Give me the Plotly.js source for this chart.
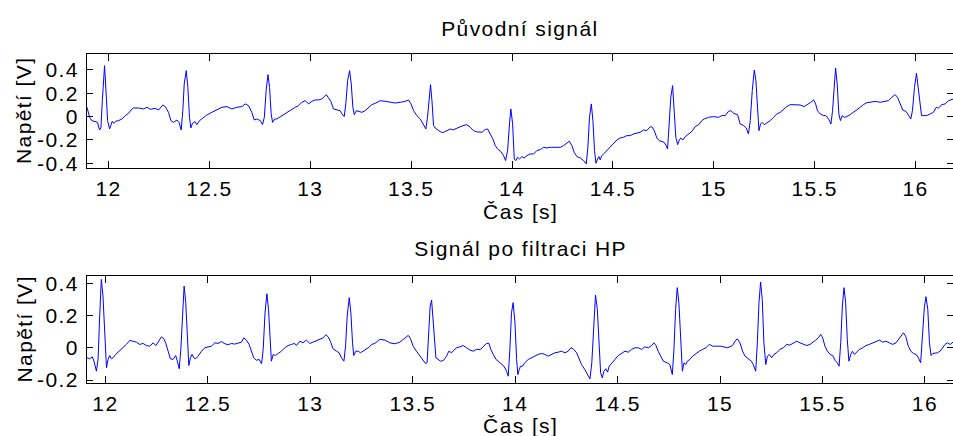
<!DOCTYPE html>
<html>
<head>
<meta charset="utf-8">
<script src="https://cdn.plot.ly/plotly-3.0.1.min.js"></script>
<style>
  html, body { margin: 0; padding: 0; background: #fff; }
  #chart { width: 953px; height: 436px; }
  .main-svg text { letter-spacing: 1.4px; }
</style>
</head>
<body>
<div id="chart"></div>
<script>
// ---- Data ----
const tOrig = [11.893,11.906,11.917,11.934,11.945,11.955,11.962,11.969,11.980,11.988,11.995,12.005,12.012,12.018,12.025,12.035,12.050,12.066,12.083,12.099,12.116,12.124,12.149,12.173,12.190,12.207,12.231,12.248,12.256,12.269,12.281,12.297,12.309,12.322,12.339,12.349,12.360,12.368,12.375,12.385,12.393,12.401,12.408,12.416,12.428,12.438,12.451,12.471,12.487,12.512,12.537,12.562,12.587,12.611,12.636,12.661,12.677,12.694,12.710,12.722,12.735,12.752,12.763,12.772,12.781,12.790,12.798,12.806,12.813,12.823,12.834,12.851,12.867,12.884,12.900,12.925,12.942,12.958,12.975,12.991,13.008,13.024,13.041,13.057,13.079,13.090,13.102,13.115,13.132,13.148,13.157,13.168,13.176,13.185,13.195,13.203,13.211,13.218,13.228,13.239,13.256,13.272,13.289,13.305,13.322,
13.347,13.371,13.396,13.421,13.446,13.471,13.487,13.499,13.512,13.528,13.545,13.562,13.573,13.581,13.590,13.596,13.603,13.611,13.619,13.631,13.644,13.657,13.669,13.682,13.694,13.707,13.718,13.735,13.757,13.776,13.793,13.809,13.826,13.851,13.867,13.879,13.892,13.905,13.917,13.928,13.945,13.958,13.968,13.978,13.988,13.994,14.003,14.011,14.019,14.027,14.037,14.049,14.060,14.074,14.090,14.107,14.123,14.140,14.156,14.173,14.189,14.206,14.222,14.239,14.255,14.272,14.284,14.297,14.308,14.322,14.338,14.355,14.368,14.376,14.384,14.393,14.401,14.409,14.416,14.424,14.431,14.437,14.445,14.454,14.470,14.487,14.503,14.520,14.536,14.553,14.569,14.586,14.602,14.619,14.635,14.652,14.668,14.682,14.693,14.705,14.718,14.730,14.743,
14.754,14.764,14.771,14.779,14.787,14.796,14.804,14.812,14.821,14.829,14.837,14.847,14.859,14.875,14.892,14.908,14.925,14.941,14.953,14.974,14.999,15.024,15.040,15.057,15.073,15.085,15.098,15.118,15.131,15.148,15.161,15.172,15.181,15.191,15.201,15.209,15.217,15.224,15.232,15.240,15.250,15.263,15.280,15.296,15.313,15.329,15.346,15.362,15.379,15.404,15.428,15.448,15.465,15.481,15.495,15.505,15.514,15.528,15.544,15.556,15.569,15.581,15.589,15.597,15.604,15.612,15.620,15.628,15.637,15.647,15.660,15.676,15.693,15.709,15.726,15.742,15.759,15.775,15.800,15.825,15.845,15.866,15.883,15.899,15.911,15.924,15.937,15.954,15.965,15.977,15.985,15.995,16.005,16.013,16.022,16.030,16.040,16.056,16.073,16.089,16.103,16.114,16.131,16.147,16.164,16.180,16.187];

const vOrig = [0.080,-0.006,-0.034,-0.040,-0.049,-0.114,-0.097,0.137,0.437,0.194,-0.034,-0.106,-0.057,-0.040,-0.057,-0.040,-0.034,-0.020,0.009,0.029,0.066,0.074,0.074,0.066,0.080,0.063,0.071,0.057,0.074,0.100,0.086,0.037,-0.034,-0.049,-0.029,-0.049,-0.114,0.051,0.280,0.394,0.251,-0.006,-0.097,-0.057,-0.043,-0.069,-0.034,-0.006,0.014,0.037,0.057,0.080,0.086,0.066,0.080,0.086,0.109,0.094,0.037,-0.029,-0.020,-0.034,-0.069,-0.006,0.223,0.360,0.251,0.023,-0.049,-0.020,-0.020,0.000,0.017,0.037,0.057,0.080,0.094,0.123,0.137,0.109,0.131,0.143,0.143,0.151,0.189,0.166,0.131,0.066,0.057,0.051,0.023,0.000,0.109,0.309,0.394,0.280,0.080,0.017,0.051,0.046,0.037,0.051,0.080,0.103,0.114,
0.137,0.131,0.123,0.117,0.123,0.131,0.143,0.109,0.051,0.009,-0.020,-0.069,-0.106,-0.006,0.194,0.274,0.137,-0.077,-0.097,-0.114,-0.129,-0.137,-0.126,-0.114,-0.106,-0.114,-0.106,-0.091,-0.077,-0.069,-0.091,-0.120,-0.131,-0.134,-0.111,-0.106,-0.143,-0.191,-0.249,-0.277,-0.300,-0.334,-0.377,-0.291,-0.049,0.066,-0.063,-0.363,-0.377,-0.349,-0.363,-0.343,-0.354,-0.334,-0.320,-0.320,-0.291,-0.283,-0.263,-0.269,-0.263,-0.263,-0.269,-0.263,-0.249,-0.226,-0.211,-0.249,-0.306,-0.343,-0.354,-0.377,-0.406,-0.263,-0.006,0.109,-0.034,-0.291,-0.400,-0.363,-0.343,-0.371,-0.334,-0.320,-0.291,-0.263,-0.234,-0.200,-0.183,-0.177,-0.163,-0.163,-0.149,-0.143,-0.134,-0.114,-0.120,-0.091,-0.086,-0.120,-0.183,-0.206,-0.211,
-0.220,-0.249,-0.277,-0.063,0.166,0.266,0.080,-0.177,-0.240,-0.200,-0.183,-0.200,-0.171,-0.149,-0.126,-0.086,-0.069,-0.034,-0.020,-0.006,0.000,-0.006,0.009,0.009,0.046,0.051,0.029,0.017,-0.063,-0.077,-0.097,-0.149,-0.034,0.223,0.400,0.309,0.023,-0.120,-0.063,-0.049,-0.069,-0.057,-0.034,-0.006,0.023,0.037,0.066,0.086,0.103,0.103,0.100,0.086,0.103,0.123,0.143,0.109,0.051,0.023,0.009,0.009,-0.020,-0.063,0.051,0.309,0.417,0.280,0.023,-0.034,0.009,-0.006,0.000,0.017,0.037,0.057,0.080,0.103,0.120,0.123,0.131,0.123,0.131,0.137,0.166,0.189,0.166,0.109,0.057,0.043,0.017,-0.020,0.051,0.251,0.371,0.251,0.080,0.009,0.009,0.009,0.023,0.037,0.080,0.074,0.103,0.109,0.137,0.151,0.151];

const tHP = [11.910,11.923,11.936,11.944,11.956,11.964,11.972,11.980,11.988,11.997,12.005,12.013,12.021,12.029,12.037,12.050,12.067,12.086,12.102,12.119,12.135,12.151,12.167,12.184,12.200,12.216,12.233,12.246,12.257,12.273,12.285,12.294,12.306,12.317,12.330,12.343,12.351,12.360,12.368,12.376,12.384,12.392,12.400,12.407,12.415,12.423,12.431,12.441,12.452,12.469,12.485,12.501,12.517,12.534,12.550,12.566,12.583,12.599,12.615,12.631,12.648,12.664,12.675,12.688,12.701,12.713,12.724,12.737,12.750,12.762,12.770,12.779,12.788,12.796,12.804,12.810,12.819,12.830,12.843,12.859,12.875,12.892,12.908,12.924,12.932,12.949,12.965,12.981,12.998,13.014,13.030,13.046,13.063,13.076,13.087,13.098,13.111,13.128,13.141,13.152,13.164,13.172,13.180,13.190,13.198,13.206,13.212,13.222,13.234,13.245,13.258,13.271,13.287,13.299,13.315,
13.339,13.364,13.388,13.413,13.437,13.461,13.478,13.489,13.502,13.518,13.535,13.551,13.562,13.570,13.577,13.585,13.592,13.598,13.606,13.613,13.624,13.636,13.649,13.665,13.676,13.689,13.701,13.714,13.730,13.746,13.763,13.779,13.795,13.811,13.831,13.847,13.860,13.872,13.881,13.893,13.906,13.917,13.933,13.945,13.958,13.966,13.974,13.982,13.990,13.999,14.007,14.013,14.020,14.026,14.036,14.047,14.064,14.080,14.096,14.112,14.129,14.145,14.161,14.178,14.194,14.210,14.226,14.243,14.259,14.272,14.283,14.300,14.313,14.324,14.340,14.352,14.365,14.374,14.384,14.392,14.401,14.409,14.417,14.425,14.433,14.443,14.451,14.459,14.471,14.487,14.503,14.519,14.536,14.552,14.568,14.585,14.601,14.617,14.633,14.650,14.666,14.677,14.687,14.698,14.710,14.723,
14.742,14.755,14.767,14.775,14.783,14.791,14.799,14.807,14.816,14.824,14.832,14.840,14.853,14.866,14.882,14.899,14.915,14.931,14.947,14.964,14.983,15.003,15.024,15.035,15.048,15.061,15.073,15.084,15.097,15.110,15.122,15.133,15.143,15.153,15.162,15.174,15.182,15.190,15.198,15.206,15.214,15.223,15.231,15.240,15.252,15.263,15.276,15.292,15.309,15.325,15.341,15.358,15.374,15.390,15.406,15.423,15.439,15.452,15.465,15.480,15.491,15.501,15.512,15.524,15.537,15.550,15.561,15.572,15.581,15.589,15.597,15.605,15.613,15.621,15.629,15.638,15.646,15.656,15.667,15.680,15.696,15.712,15.729,15.745,15.761,15.778,15.794,15.810,15.826,15.843,15.859,15.870,15.882,15.895,15.906,15.919,15.931,15.944,15.957,15.968,15.979,15.988,15.997,16.005,16.014,16.022,16.030,16.038,16.049,16.061,16.074,16.087,16.098,16.110,16.123,16.137];

const vHP = [-0.062,-0.068,-0.056,-0.083,-0.145,-0.072,0.197,0.424,0.321,0.031,-0.124,-0.072,-0.048,-0.068,-0.062,-0.041,-0.021,0.000,0.021,0.046,0.039,0.035,0.021,0.027,0.014,0.010,0.031,0.014,0.035,0.068,0.056,0.031,-0.021,-0.068,-0.072,-0.048,-0.083,-0.130,-0.010,0.217,0.383,0.280,0.031,-0.110,-0.062,-0.041,-0.062,-0.068,-0.052,-0.021,0.000,0.006,0.010,0.031,0.027,0.039,0.025,0.019,0.027,0.023,0.027,0.035,0.062,0.048,0.021,-0.021,-0.062,-0.077,-0.072,-0.099,-0.010,0.217,0.335,0.238,0.031,-0.083,-0.041,-0.048,-0.035,-0.021,0.000,0.014,0.021,0.027,0.014,0.041,0.031,0.048,0.027,0.035,0.048,0.052,0.062,0.081,0.068,0.041,-0.006,-0.021,-0.031,-0.062,-0.083,0.010,0.197,0.311,0.217,0.031,-0.048,-0.021,-0.021,-0.031,-0.021,-0.010,0.004,0.021,0.027,
0.052,0.048,0.031,0.025,0.035,0.060,0.077,0.056,0.010,-0.021,-0.052,-0.077,-0.097,-0.093,0.072,0.259,0.296,0.197,0.010,-0.062,-0.072,-0.083,-0.079,-0.052,-0.021,-0.031,-0.014,0.000,0.006,0.014,0.000,-0.014,-0.021,-0.010,-0.010,0.014,0.027,0.027,-0.010,-0.041,-0.072,-0.083,-0.104,-0.114,-0.145,-0.176,-0.010,0.217,0.280,0.155,-0.072,-0.166,-0.135,-0.114,-0.114,-0.093,-0.072,-0.062,-0.048,-0.041,-0.035,-0.041,-0.052,-0.041,-0.031,-0.027,-0.021,-0.031,-0.021,0.000,-0.006,-0.031,-0.072,-0.104,-0.135,-0.166,-0.193,-0.093,0.197,0.327,0.238,-0.010,-0.155,-0.186,-0.145,-0.130,-0.151,-0.114,-0.093,-0.072,-0.048,-0.035,-0.021,-0.027,-0.010,0.000,0.000,-0.010,0.006,0.000,0.014,0.031,0.014,-0.021,-0.052,-0.083,
-0.093,-0.104,-0.166,-0.010,0.238,0.373,0.280,0.031,-0.145,-0.093,-0.104,-0.083,-0.072,-0.052,-0.035,-0.021,-0.010,0.000,0.021,0.010,0.010,0.010,0.004,0.000,0.006,0.014,0.041,0.056,0.031,-0.021,-0.052,-0.062,-0.072,-0.083,-0.104,-0.145,0.031,0.280,0.408,0.300,0.031,-0.104,-0.052,-0.041,-0.062,-0.041,-0.031,-0.010,0.000,0.021,0.017,0.031,0.041,0.031,0.025,0.014,0.021,0.031,0.046,0.062,0.083,0.062,0.010,-0.021,-0.041,-0.048,-0.077,-0.093,-0.114,0.031,0.259,0.373,0.280,0.052,-0.083,-0.041,-0.021,-0.041,-0.027,-0.010,0.000,0.014,0.021,0.031,0.041,0.048,0.035,0.041,0.031,0.021,0.031,0.052,0.072,0.093,0.072,0.010,-0.021,-0.035,-0.041,-0.062,-0.093,0.052,0.248,0.317,0.238,0.031,-0.048,-0.035,-0.035,-0.031,-0.021,0.000,0.021,0.031,0.021,0.035];

const xTickVals = [12, 12.5, 13, 13.5, 14, 14.5, 15, 15.5, 16];
const xTickText = ['12', '12.5', '13', '13.5', '14', '14.5', '15', '15.5', '16'];
const yTickValsTop = [-0.4, -0.2, 0, 0.2, 0.4];
const yTickTextTop = ['-0.4', '-0.2', '0', '0.2', '0.4'];
const yTickValsBottom = [-0.2, 0, 0.2, 0.4];
const yTickTextBottom = ['-0.2', '0', '0.2', '0.4'];

const titleTop = 'Původní signál';
const titleBottom = 'Signál po filtraci HP';
const xLabel = 'Čas [s]';
const yLabel = 'Napětí [V]';

// ---- Chart ----
const FS = 21;
const lineStyle = { color: '#0000ff', width: 1 };
const traces = [
  { x: tOrig, y: vOrig, type: 'scatter', mode: 'lines', line: lineStyle, xaxis: 'x', yaxis: 'y', hoverinfo: 'skip' },
  { x: tHP, y: vHP, type: 'scatter', mode: 'lines', line: lineStyle, xaxis: 'x2', yaxis: 'y2', hoverinfo: 'skip' }
];

function xAxis(anchor, range) {
  return {
    anchor: anchor, domain: [0, 1], range: range,
    tickmode: 'array', tickvals: xTickVals, ticktext: xTickText,
    ticks: 'inside', ticklen: 7, tickwidth: 1, tickcolor: '#000',
    showline: true, linecolor: '#000', linewidth: 1, mirror: 'ticks',
    showgrid: false, zeroline: false, ticklabelstandoff: 1
  };
}
function yAxis(anchor, domain, range, vals, text) {
  return {
    anchor: anchor, domain: domain, range: range,
    tickmode: 'array', tickvals: vals, ticktext: text,
    ticks: 'inside', ticklen: 6, tickwidth: 1, tickcolor: '#000',
    showline: true, linecolor: '#000', linewidth: 1, mirror: 'ticks',
    showgrid: false, zeroline: false, ticklabelstandoff: 3
  };
}

const H = 436, L = 87, W = 866;
const px = v => (v - L) / W;
const py = v => 1 - v / H;

const ann = (text, x, y, angle) => ({
  text: text, xref: 'paper', yref: 'paper', x: x, y: y,
  xanchor: 'center', yanchor: 'middle', showarrow: false, textangle: angle || 0,
  font: { size: FS, color: '#000' }
});

const layout = {
  width: 953, height: 436,
  margin: { l: L, r: 0, t: 0, b: 0 },
  paper_bgcolor: '#fff', plot_bgcolor: '#fff',
  showlegend: false,
  font: { family: '"Liberation Sans", Arial, Helvetica, sans-serif', size: FS, color: '#000' },
  xaxis: xAxis('y', [11.893, 16.186]),
  yaxis: yAxis('x', [py(168.3), py(54)], [-0.443, 0.537], yTickValsTop, yTickTextTop),
  xaxis2: xAxis('y2', [11.910, 16.137]),
  yaxis2: yAxis('x2', [py(383.3), py(275.7)], [-0.22, 0.447], yTickValsBottom, yTickTextBottom),
  annotations: [
    ann(titleTop, 0.5, py(29)),
    ann(xLabel, 0.5, py(211)),
    ann(titleBottom, 0.5, py(249)),
    ann(xLabel, 0.5, py(425)),
    ann(yLabel, px(24), py(111), -90),
    ann(yLabel, px(24), py(329.5), -90)
  ]
};

Plotly.newPlot('chart', traces, layout, { displayModeBar: false, staticPlot: true });
</script>
</body>
</html>
